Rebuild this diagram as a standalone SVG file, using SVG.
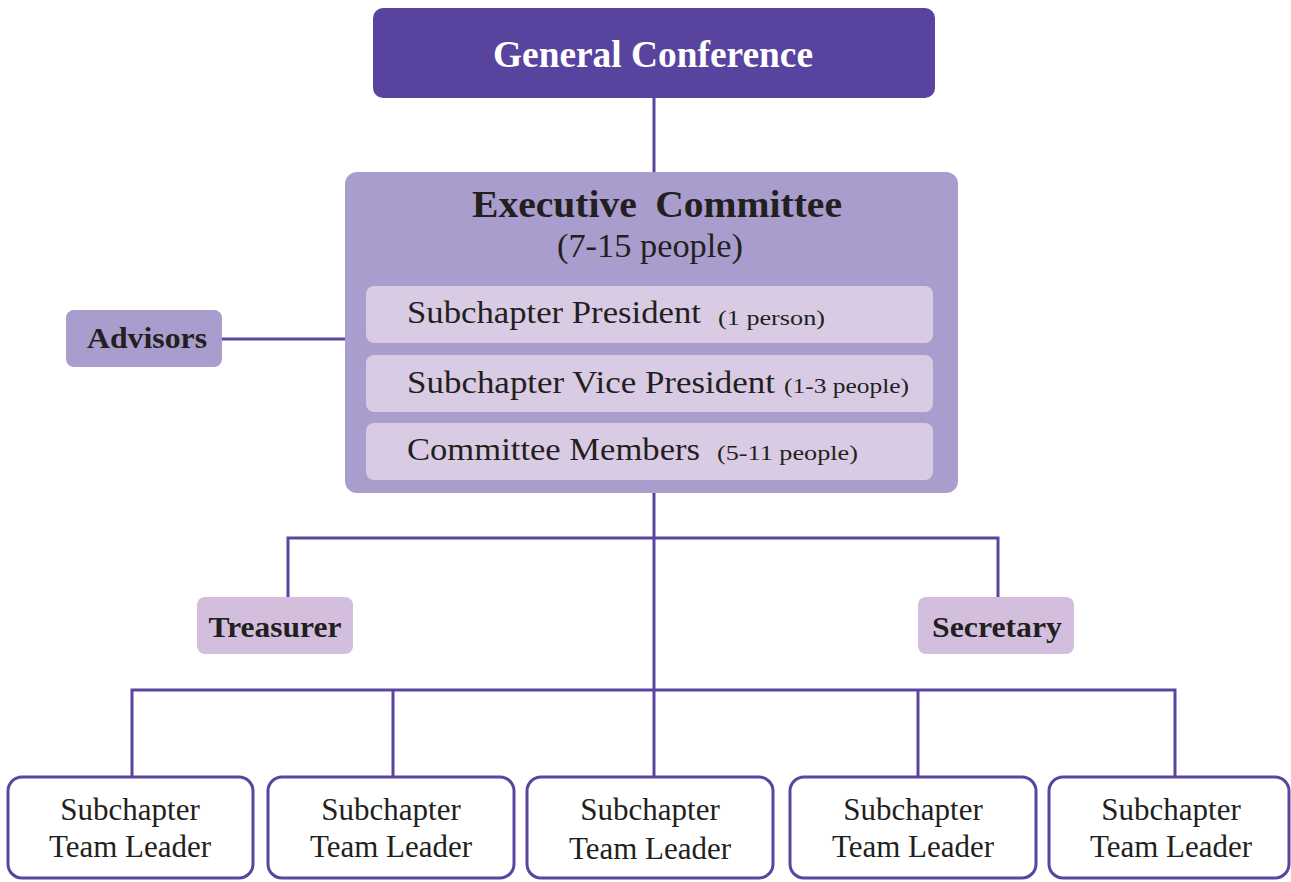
<svg xmlns="http://www.w3.org/2000/svg" width="1291" height="882" viewBox="0 0 1291 882">
<style>
.t{font-family:"Liberation Serif","Times New Roman",serif;fill:#231f20}
.b{font-weight:bold}
.c{text-anchor:middle}
.ln{stroke:#5a44a0;stroke-width:3;fill:none}
.leaf{fill:#ffffff;stroke:#5a44a0;stroke-width:3}
.inner{fill:#d9cbe4}
</style>
<rect width="1291" height="882" fill="#ffffff"/>
<g id="connectors">
<line class="ln" x1="654" y1="98" x2="654" y2="172"/>
<line class="ln" x1="222" y1="339" x2="345" y2="339"/>
<line class="ln" x1="654" y1="493" x2="654" y2="777"/>
<polyline class="ln" points="288,597 288,538 998,538 998,597"/>
<polyline class="ln" points="132,777 132,690 1175,690 1175,777"/>
<line class="ln" x1="393" y1="690" x2="393" y2="777"/>
<line class="ln" x1="918" y1="690" x2="918" y2="777"/>
</g>
<g id="general-conference">
<rect x="373" y="8" width="562" height="90" rx="10" fill="#58449e"/>
<text class="t b c" x="653" y="67" font-size="37" style="fill:#ffffff" textLength="320" lengthAdjust="spacingAndGlyphs">General Conference</text>
</g>
<g id="executive-committee">
<rect x="345" y="172" width="613" height="321" rx="12" fill="#a89dcd"/>
<text class="t b c" x="657" y="217" font-size="38" word-spacing="8" textLength="370" lengthAdjust="spacingAndGlyphs">Executive Committee</text>
<text class="t c" x="650" y="257" font-size="33" textLength="186" lengthAdjust="spacingAndGlyphs">(7-15 people)</text>
<g id="subchapter-president">
<rect class="inner" x="366" y="286" width="567" height="57" rx="8"/>
<text class="t" x="407" y="323" font-size="32" textLength="294" lengthAdjust="spacingAndGlyphs">Subchapter President</text>
<text class="t" x="718" y="325" font-size="22" textLength="107" lengthAdjust="spacingAndGlyphs">(1 person)</text>
</g>
<g id="subchapter-vice-president">
<rect class="inner" x="366" y="355" width="567" height="57" rx="8"/>
<text class="t" x="407" y="393" font-size="32" textLength="368" lengthAdjust="spacingAndGlyphs">Subchapter Vice President</text>
<text class="t" x="784" y="393" font-size="22" textLength="125" lengthAdjust="spacingAndGlyphs">(1-3 people)</text>
</g>
<g id="committee-members">
<rect class="inner" x="366" y="423" width="567" height="57" rx="8"/>
<text class="t" x="407" y="460" font-size="32" textLength="293" lengthAdjust="spacingAndGlyphs">Committee Members</text>
<text class="t" x="717" y="460" font-size="22" textLength="141" lengthAdjust="spacingAndGlyphs">(5-11 people)</text>
</g>
</g>
<g id="advisors">
<rect x="66" y="310" width="156" height="57" rx="8" fill="#a89dcd"/>
<text class="t b c" x="147" y="348" font-size="30" textLength="120" lengthAdjust="spacingAndGlyphs">Advisors</text>
</g>
<g id="treasurer">
<rect x="197" y="597" width="156" height="57" rx="8" fill="#d3bfdd"/>
<text class="t b c" x="275" y="637" font-size="30" textLength="133" lengthAdjust="spacingAndGlyphs">Treasurer</text>
</g>
<g id="secretary">
<rect x="918" y="597" width="156" height="57" rx="8" fill="#d3bfdd"/>
<text class="t b c" x="997" y="637" font-size="30" textLength="130" lengthAdjust="spacingAndGlyphs">Secretary</text>
</g>
<g id="team-leader-1">
<rect class="leaf" x="8" y="777" width="245" height="101" rx="14"/>
<text class="t c" x="130" y="820" font-size="31">Subchapter</text>
<text class="t c" x="130" y="857" font-size="31">Team Leader</text>
</g>
<g id="team-leader-2">
<rect class="leaf" x="268" y="777" width="246" height="101" rx="14"/>
<text class="t c" x="391" y="820" font-size="31">Subchapter</text>
<text class="t c" x="391" y="857" font-size="31">Team Leader</text>
</g>
<g id="team-leader-3">
<rect class="leaf" x="527" y="777" width="246" height="101" rx="14"/>
<text class="t c" x="650" y="820" font-size="31">Subchapter</text>
<text class="t c" x="650" y="859" font-size="31">Team Leader</text>
</g>
<g id="team-leader-4">
<rect class="leaf" x="790" y="777" width="246" height="101" rx="14"/>
<text class="t c" x="913" y="820" font-size="31">Subchapter</text>
<text class="t c" x="913" y="857" font-size="31">Team Leader</text>
</g>
<g id="team-leader-5">
<rect class="leaf" x="1049" y="777" width="240" height="101" rx="14"/>
<text class="t c" x="1171" y="820" font-size="31">Subchapter</text>
<text class="t c" x="1171" y="857" font-size="31">Team Leader</text>
</g>
</svg>
